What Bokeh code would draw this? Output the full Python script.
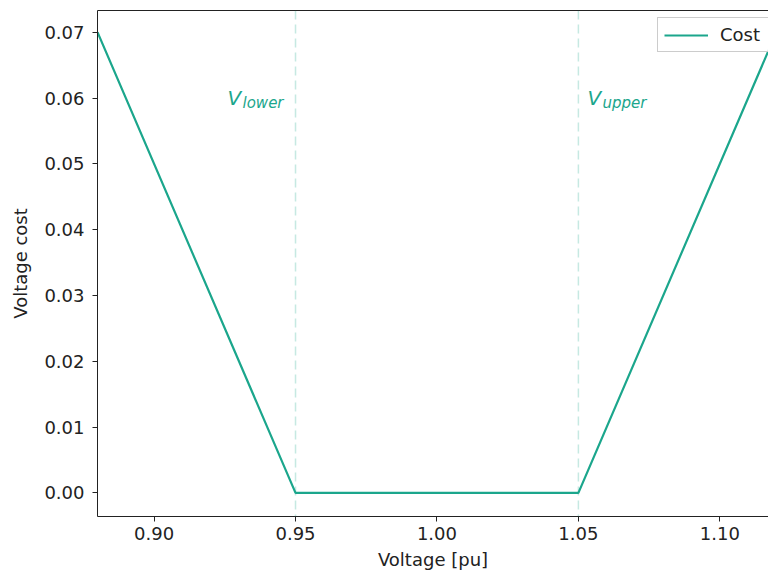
from bokeh.plotting import figure
from bokeh.models import ColumnDataSource, Range1d, Span, LinearAxis, Legend, LegendItem, FixedTicker
from bokeh.core.properties import value
from bokeh.embed import file_html
from bokeh.resources import INLINE

voltage = [0.88, 0.95, 1.05, 1.12]
cost = [0.07, 0.0, 0.0, 0.07]
v_lower = 0.95
v_upper = 1.05
x_ticks = [0.90, 0.95, 1.00, 1.05, 1.10]
y_ticks = [0.00, 0.01, 0.02, 0.03, 0.04, 0.05, 0.06, 0.07]
label_y = 0.0600

teal = "#1ba68c"
font = "DejaVu Sans"
fs = "18px"

p = figure(width=768, height=579, output_backend="svg", toolbar_location=None,
           x_range=Range1d(0.88, 1.1172), y_range=Range1d(-0.0036, 0.0733),
           min_border_left=97, min_border_right=0, min_border_top=10, min_border_bottom=63)
p.outline_line_color = None
p.xgrid.visible = False
p.ygrid.visible = False
p.background_fill_color = "white"

src = ColumnDataSource(dict(x=voltage, y=cost))
r = p.line("x", "y", source=src, line_color=teal, line_width=2.2)

for v in (v_lower, v_upper):
    p.add_layout(Span(location=v, dimension="height", line_color=teal, line_alpha=0.25,
                      line_width=1.5, line_dash="9 5"))

# labels V_lower / V_upper
p.text(x=[v_lower], y=[label_y], text=["V"], text_font=value(font), text_font_style="italic",
       text_font_size="20px", text_color=teal, text_align="left", text_baseline="alphabetic",
       x_offset=-68)
p.text(x=[v_lower], y=[label_y], text=["lower"], text_font=value(font), text_font_style="italic",
       text_font_size="15px", text_color=teal, text_align="left", text_baseline="alphabetic",
       x_offset=-53, y_offset=5)
p.text(x=[v_upper], y=[label_y], text=["V"], text_font=value(font), text_font_style="italic",
       text_font_size="20px", text_color=teal, text_align="left", text_baseline="alphabetic",
       x_offset=9)
p.text(x=[v_upper], y=[label_y], text=["upper"], text_font=value(font), text_font_style="italic",
       text_font_size="15px", text_color=teal, text_align="left", text_baseline="alphabetic",
       x_offset=24, y_offset=5)

for ax in (p.xaxis[0], p.yaxis[0]):
    ax.axis_line_color = "#222222"
    ax.axis_line_width = 1
    ax.major_tick_out = 5
    ax.major_tick_in = 0
    ax.minor_tick_line_color = None
    ax.major_tick_line_color = "#222222"
    ax.major_label_text_font = font
    ax.major_label_text_font_size = fs
    ax.major_label_text_color = "#222222"
    ax.axis_label_text_font = font
    ax.axis_label_text_font_size = fs
    ax.axis_label_text_font_style = "normal"
    ax.axis_label_text_color = "#222222"

p.xaxis.ticker = FixedTicker(ticks=x_ticks)
p.yaxis.ticker = FixedTicker(ticks=y_ticks)
p.xaxis.major_label_overrides = {t: f"{t:.2f}" for t in x_ticks}
p.yaxis.major_label_overrides = {t: f"{t:.2f}" for t in y_ticks}
p.xaxis.axis_label = "Voltage [pu]"
p.yaxis.axis_label = "Voltage cost"
p.xaxis.major_label_standoff = 5
p.xaxis.axis_label_standoff = 6
p.yaxis.major_label_standoff = 8
p.yaxis.axis_label_standoff = 10

top = LinearAxis(ticker=FixedTicker(ticks=[]), major_tick_line_color=None,
                 minor_tick_line_color=None, axis_line_color="#222222")
p.add_layout(top, "above")

legend = Legend(items=[LegendItem(label="Cost", renderers=[r])], location=(560, 464),
                label_text_font=font, label_text_font_size=fs, label_text_color="#222222",
                border_line_color="#cccccc", border_line_alpha=1, background_fill_alpha=0.8,
                glyph_width=44, padding=6, margin=0, label_standoff=12, label_width=70)
p.add_layout(legend)

open("out.html", "w").write(file_html(p, INLINE))
